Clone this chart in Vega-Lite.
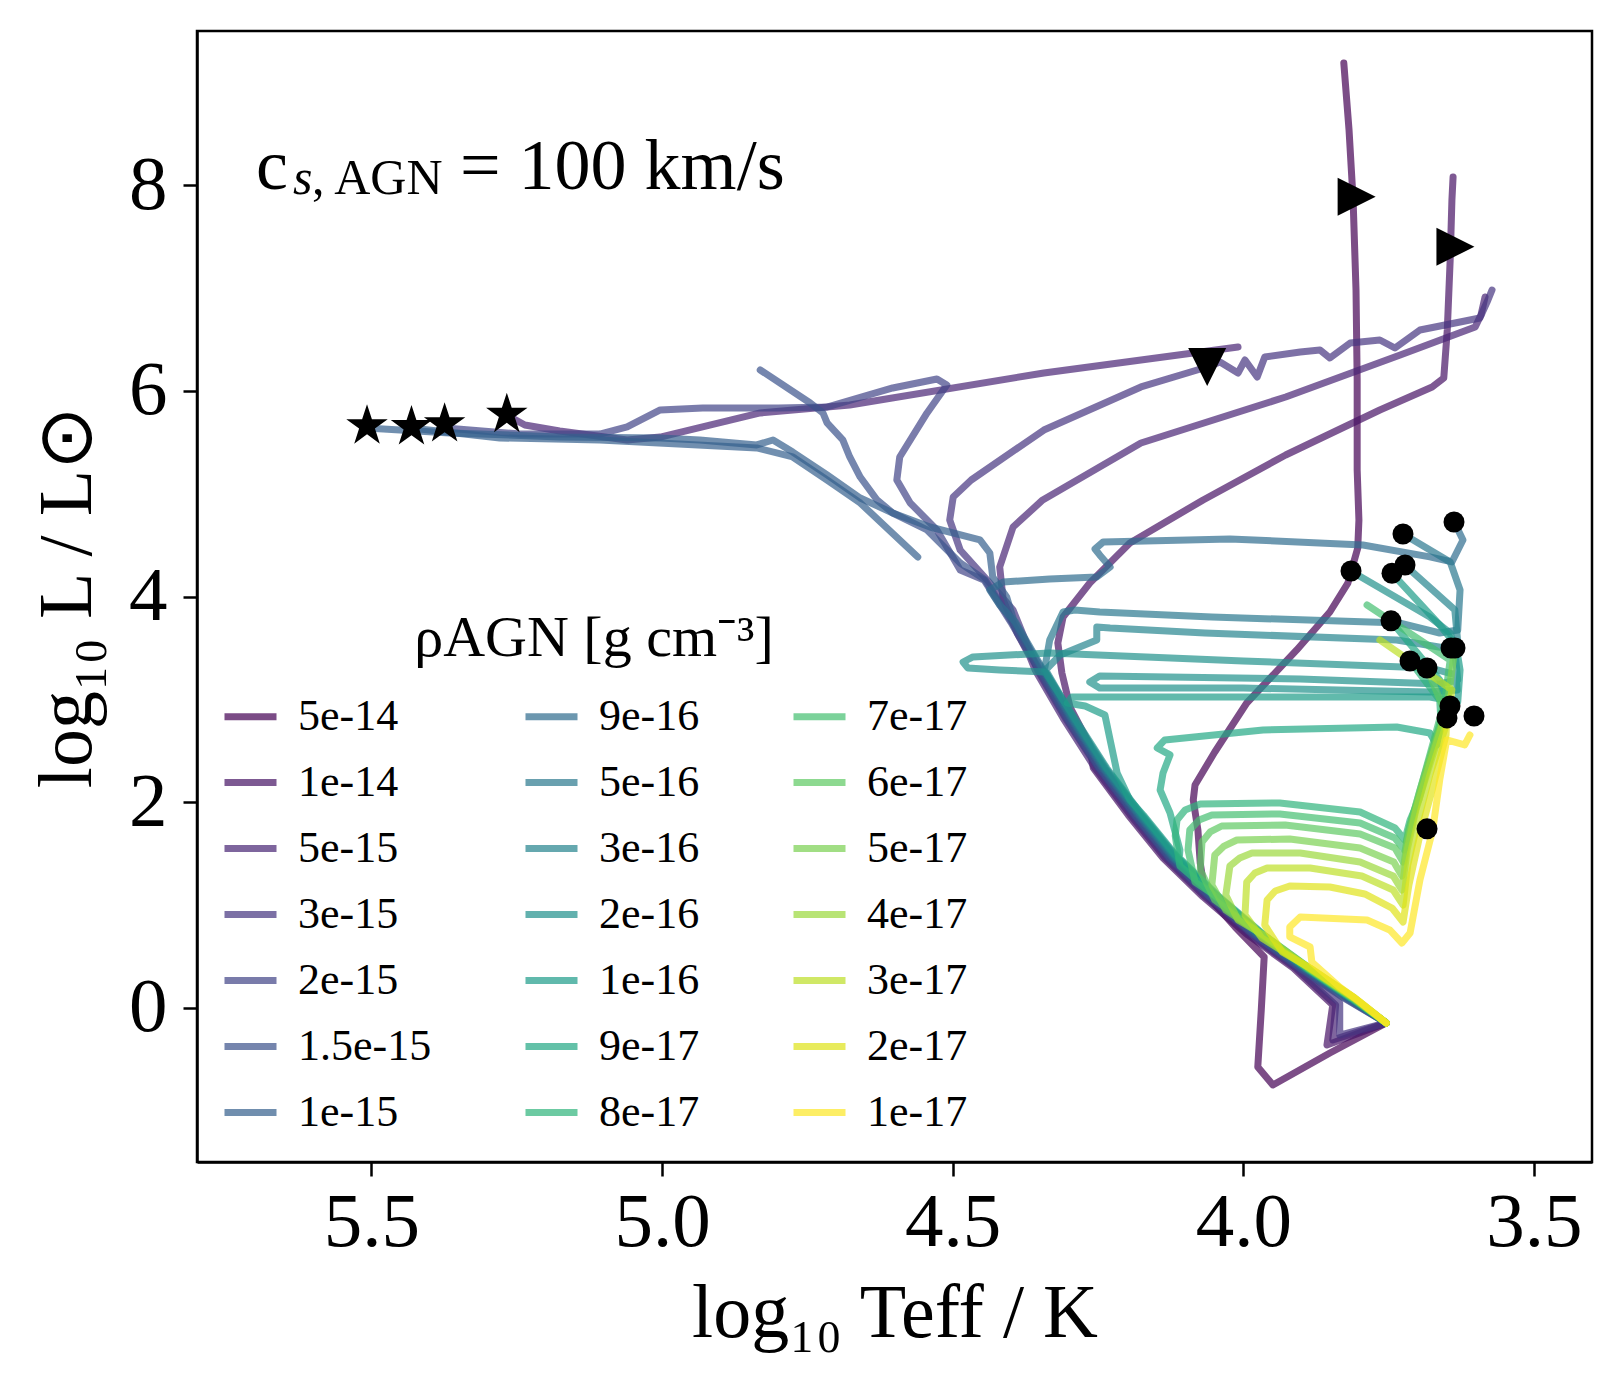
{
"$schema":"https://vega.github.io/schema/vega-lite/v6.json",
"width":1395,"height":1131,
"autosize":{"type":"none"},
"padding":{"left":197,"top":31,"right":29,"bottom":229},
"background":"white",
"config":{"view":{"stroke":"black","strokeWidth":2.5},
 "axis":{"grid":false,"labelFont":"Liberation Serif","labelFontSize":77,"labelColor":"black","labelFlush":false,"labelOverlap":false,"tickSize":14,"tickWidth":2.5,"tickColor":"black","domainColor":"black","domainWidth":2.5,"titleFont":"Liberation Serif","titleFontSize":76,"titleFontWeight":"normal","titleColor":"black"}},
"layer":[
 {"data":{"values":[
{"r":"5e-14","s":"0","i":0,"x":3.754,"y":-0.148},{"r":"5e-14","s":"0","i":1,"x":3.851,"y":-0.440},{"r":"5e-14","s":"0","i":2,"x":3.949,"y":-0.751},{"r":"5e-14","s":"0","i":3,"x":3.975,"y":-0.576},{"r":"5e-14","s":"0","i":4,"x":3.969,"y":-0.022},{"r":"5e-14","s":"0","i":5,"x":3.964,"y":0.494},{"r":"5e-14","s":"0","i":6,"x":4.014,"y":0.786},{"r":"5e-14","s":"0","i":7,"x":4.066,"y":1.116},{"r":"5e-14","s":"0","i":8,"x":4.074,"y":1.408},{"r":"5e-14","s":"0","i":9,"x":4.078,"y":1.729},{"r":"5e-14","s":"0","i":10,"x":4.086,"y":2.021},{"r":"5e-14","s":"0","i":11,"x":4.083,"y":2.166},{"r":"5e-14","s":"0","i":12,"x":4.049,"y":2.488},{"r":"5e-14","s":"0","i":13,"x":3.994,"y":2.964},{"r":"5e-14","s":"0","i":14,"x":3.908,"y":3.480},{"r":"5e-14","s":"0","i":15,"x":3.851,"y":3.849},{"r":"5e-14","s":"0","i":16,"x":3.820,"y":4.131},{"r":"5e-14","s":"0","i":17,"x":3.803,"y":4.472},{"r":"5e-14","s":"0","i":18,"x":3.801,"y":4.744},{"r":"5e-14","s":"0","i":19,"x":3.804,"y":5.230},{"r":"5e-14","s":"0","i":20,"x":3.804,"y":6.106},{"r":"5e-14","s":"0","i":21,"x":3.806,"y":6.981},{"r":"5e-14","s":"0","i":22,"x":3.811,"y":7.856},{"r":"5e-14","s":"0","i":23,"x":3.818,"y":8.537},{"r":"5e-14","s":"0","i":24,"x":3.827,"y":9.189},
{"r":"1e-14","s":"1","i":0,"x":3.754,"y":-0.148},{"r":"1e-14","s":"1","i":1,"x":3.856,"y":-0.362},{"r":"1e-14","s":"1","i":2,"x":3.846,"y":0.027},{"r":"1e-14","s":"1","i":3,"x":3.914,"y":0.387},{"r":"1e-14","s":"1","i":4,"x":3.992,"y":0.708},{"r":"1e-14","s":"1","i":5,"x":4.069,"y":1.078},{"r":"1e-14","s":"1","i":6,"x":4.138,"y":1.457},{"r":"1e-14","s":"1","i":7,"x":4.198,"y":1.875},{"r":"1e-14","s":"1","i":8,"x":4.258,"y":2.332},{"r":"1e-14","s":"1","i":9,"x":4.264,"y":2.556},{"r":"1e-14","s":"1","i":10,"x":4.298,"y":2.925},{"r":"1e-14","s":"1","i":11,"x":4.312,"y":3.256},{"r":"1e-14","s":"1","i":12,"x":4.319,"y":3.548},{"r":"1e-14","s":"1","i":13,"x":4.310,"y":3.801},{"r":"1e-14","s":"1","i":14,"x":4.264,"y":4.131},{"r":"1e-14","s":"1","i":15,"x":4.195,"y":4.520},{"r":"1e-14","s":"1","i":16,"x":4.069,"y":4.939},{"r":"1e-14","s":"1","i":17,"x":3.927,"y":5.376},{"r":"1e-14","s":"1","i":18,"x":3.765,"y":5.814},{"r":"1e-14","s":"1","i":19,"x":3.675,"y":6.038},{"r":"1e-14","s":"1","i":20,"x":3.655,"y":6.125},{"r":"1e-14","s":"1","i":21,"x":3.649,"y":6.592},{"r":"1e-14","s":"1","i":22,"x":3.644,"y":7.273},{"r":"1e-14","s":"1","i":23,"x":3.641,"y":7.856},{"r":"1e-14","s":"1","i":24,"x":3.639,"y":8.080},
{"r":"5e-15","s":"2a","i":0,"x":3.754,"y":-0.148},{"r":"5e-15","s":"2a","i":1,"x":3.846,"y":-0.313},{"r":"5e-15","s":"2a","i":2,"x":3.841,"y":0.027},{"r":"5e-15","s":"2a","i":3,"x":3.910,"y":0.387},{"r":"5e-15","s":"2a","i":4,"x":3.988,"y":0.708},{"r":"5e-15","s":"2a","i":5,"x":4.065,"y":1.078},{"r":"5e-15","s":"2a","i":6,"x":4.134,"y":1.457},{"r":"5e-15","s":"2a","i":7,"x":4.194,"y":1.875},{"r":"5e-15","s":"2a","i":8,"x":4.255,"y":2.332},{"r":"5e-15","s":"2a","i":9,"x":4.310,"y":2.818},{"r":"5e-15","s":"2a","i":10,"x":4.358,"y":3.285},{"r":"5e-15","s":"2a","i":11,"x":4.367,"y":3.412},{"r":"5e-15","s":"2a","i":12,"x":4.389,"y":3.645},{"r":"5e-15","s":"2a","i":13,"x":4.413,"y":3.966},{"r":"5e-15","s":"2a","i":14,"x":4.419,"y":4.287},{"r":"5e-15","s":"2a","i":15,"x":4.396,"y":4.676},{"r":"5e-15","s":"2a","i":16,"x":4.345,"y":4.939},{"r":"5e-15","s":"2a","i":17,"x":4.176,"y":5.493},{"r":"5e-15","s":"2a","i":18,"x":3.927,"y":5.940},{"r":"5e-15","s":"2a","i":19,"x":3.730,"y":6.349},{"r":"5e-15","s":"2a","i":20,"x":3.601,"y":6.621},{"r":"5e-15","s":"2a","i":21,"x":3.591,"y":6.738},{"r":"5e-15","s":"2a","i":22,"x":3.584,"y":6.913},
{"r":"5e-15","s":"2b","i":0,"x":5.267,"y":5.765},{"r":"5e-15","s":"2b","i":1,"x":5.236,"y":5.668},{"r":"5e-15","s":"2b","i":2,"x":5.176,"y":5.610},{"r":"5e-15","s":"2b","i":3,"x":5.060,"y":5.522},{"r":"5e-15","s":"2b","i":4,"x":5.003,"y":5.551},{"r":"5e-15","s":"2b","i":5,"x":4.831,"y":5.785},{"r":"5e-15","s":"2b","i":6,"x":4.677,"y":5.863},{"r":"5e-15","s":"2b","i":7,"x":4.343,"y":6.174},{"r":"5e-15","s":"2b","i":8,"x":4.009,"y":6.427},
{"r":"3e-15","s":"3","i":0,"x":3.754,"y":-0.148},{"r":"3e-15","s":"3","i":1,"x":3.834,"y":-0.265},{"r":"3e-15","s":"3","i":2,"x":3.834,"y":0.047},{"r":"3e-15","s":"3","i":3,"x":3.906,"y":0.387},{"r":"3e-15","s":"3","i":4,"x":3.984,"y":0.708},{"r":"3e-15","s":"3","i":5,"x":4.061,"y":1.078},{"r":"3e-15","s":"3","i":6,"x":4.130,"y":1.457},{"r":"3e-15","s":"3","i":7,"x":4.190,"y":1.875},{"r":"3e-15","s":"3","i":8,"x":4.250,"y":2.332},{"r":"3e-15","s":"3","i":9,"x":4.306,"y":2.818},{"r":"3e-15","s":"3","i":10,"x":4.354,"y":3.285},{"r":"3e-15","s":"3","i":11,"x":4.396,"y":3.869},{"r":"3e-15","s":"3","i":12,"x":4.436,"y":4.131},{"r":"3e-15","s":"3","i":13,"x":4.487,"y":4.452},{"r":"3e-15","s":"3","i":14,"x":4.505,"y":4.744},{"r":"3e-15","s":"3","i":15,"x":4.499,"y":4.968},{"r":"3e-15","s":"3","i":16,"x":4.468,"y":5.133},{"r":"3e-15","s":"3","i":17,"x":4.343,"y":5.619},{"r":"3e-15","s":"3","i":18,"x":4.176,"y":6.038},{"r":"3e-15","s":"3","i":19,"x":4.062,"y":6.232},{"r":"3e-15","s":"3","i":20,"x":4.040,"y":6.281},{"r":"3e-15","s":"3","i":21,"x":4.009,"y":6.174},{"r":"3e-15","s":"3","i":22,"x":3.997,"y":6.300},{"r":"3e-15","s":"3","i":23,"x":3.976,"y":6.135},{"r":"3e-15","s":"3","i":24,"x":3.963,"y":6.329},{"r":"3e-15","s":"3","i":25,"x":3.902,"y":6.378},{"r":"3e-15","s":"3","i":26,"x":3.868,"y":6.397},{"r":"3e-15","s":"3","i":27,"x":3.851,"y":6.320},{"r":"3e-15","s":"3","i":28,"x":3.816,"y":6.466},{"r":"3e-15","s":"3","i":29,"x":3.765,"y":6.495},{"r":"3e-15","s":"3","i":30,"x":3.739,"y":6.417},{"r":"3e-15","s":"3","i":31,"x":3.696,"y":6.592},{"r":"3e-15","s":"3","i":32,"x":3.627,"y":6.670},{"r":"3e-15","s":"3","i":33,"x":3.593,"y":6.709},{"r":"3e-15","s":"3","i":34,"x":3.579,"y":6.884},{"r":"3e-15","s":"3","i":35,"x":3.572,"y":6.981},
{"r":"2e-15","s":"4","i":0,"x":3.754,"y":-0.148},{"r":"2e-15","s":"4","i":1,"x":3.827,"y":0.095},{"r":"2e-15","s":"4","i":2,"x":3.904,"y":0.387},{"r":"2e-15","s":"4","i":3,"x":3.982,"y":0.708},{"r":"2e-15","s":"4","i":4,"x":4.059,"y":1.078},{"r":"2e-15","s":"4","i":5,"x":4.128,"y":1.457},{"r":"2e-15","s":"4","i":6,"x":4.188,"y":1.875},{"r":"2e-15","s":"4","i":7,"x":4.249,"y":2.332},{"r":"2e-15","s":"4","i":8,"x":4.304,"y":2.818},{"r":"2e-15","s":"4","i":9,"x":4.352,"y":3.285},{"r":"2e-15","s":"4","i":10,"x":4.400,"y":3.752},{"r":"2e-15","s":"4","i":11,"x":4.446,"y":4.161},{"r":"2e-15","s":"4","i":12,"x":4.487,"y":4.258},{"r":"2e-15","s":"4","i":13,"x":4.527,"y":4.647},{"r":"2e-15","s":"4","i":14,"x":4.573,"y":4.910},{"r":"2e-15","s":"4","i":15,"x":4.596,"y":5.133},{"r":"2e-15","s":"4","i":16,"x":4.591,"y":5.357},{"r":"2e-15","s":"4","i":17,"x":4.544,"y":5.785},{"r":"2e-15","s":"4","i":18,"x":4.510,"y":6.057},{"r":"2e-15","s":"4","i":19,"x":4.527,"y":6.115},{"r":"2e-15","s":"4","i":20,"x":4.603,"y":6.028},{"r":"2e-15","s":"4","i":21,"x":4.716,"y":5.843},{"r":"2e-15","s":"4","i":22,"x":4.800,"y":5.833},{"r":"2e-15","s":"4","i":23,"x":4.930,"y":5.833},{"r":"2e-15","s":"4","i":24,"x":5.003,"y":5.814},{"r":"2e-15","s":"4","i":25,"x":5.060,"y":5.649},{"r":"2e-15","s":"4","i":26,"x":5.107,"y":5.580},{"r":"2e-15","s":"4","i":27,"x":5.244,"y":5.580},{"r":"2e-15","s":"4","i":28,"x":5.373,"y":5.639},
{"r":"1.5e-15","s":"5","i":0,"x":3.754,"y":-0.148},{"r":"1.5e-15","s":"5","i":1,"x":3.825,"y":0.095},{"r":"1.5e-15","s":"5","i":2,"x":3.902,"y":0.387},{"r":"1.5e-15","s":"5","i":3,"x":3.980,"y":0.708},{"r":"1.5e-15","s":"5","i":4,"x":4.057,"y":1.078},{"r":"1.5e-15","s":"5","i":5,"x":4.126,"y":1.457},{"r":"1.5e-15","s":"5","i":6,"x":4.186,"y":1.875},{"r":"1.5e-15","s":"5","i":7,"x":4.247,"y":2.332},{"r":"1.5e-15","s":"5","i":8,"x":4.302,"y":2.818},{"r":"1.5e-15","s":"5","i":9,"x":4.350,"y":3.285},{"r":"1.5e-15","s":"5","i":10,"x":4.398,"y":3.752},{"r":"1.5e-15","s":"5","i":11,"x":4.444,"y":4.161},{"r":"1.5e-15","s":"5","i":12,"x":4.487,"y":4.326},{"r":"1.5e-15","s":"5","i":13,"x":4.544,"y":4.647},{"r":"1.5e-15","s":"5","i":14,"x":4.603,"y":4.812},{"r":"1.5e-15","s":"5","i":15,"x":4.630,"y":4.939},{"r":"1.5e-15","s":"5","i":16,"x":4.659,"y":5.162},{"r":"1.5e-15","s":"5","i":17,"x":4.677,"y":5.357},{"r":"1.5e-15","s":"5","i":18,"x":4.689,"y":5.523},{"r":"1.5e-15","s":"5","i":19,"x":4.716,"y":5.688},{"r":"1.5e-15","s":"5","i":20,"x":4.723,"y":5.785},{"r":"1.5e-15","s":"5","i":21,"x":4.745,"y":5.882},{"r":"1.5e-15","s":"5","i":22,"x":4.831,"y":6.203},
{"r":"1e-15","s":"6a","i":0,"x":3.754,"y":-0.148},{"r":"1e-15","s":"6a","i":1,"x":3.821,"y":0.095},{"r":"1e-15","s":"6a","i":2,"x":3.898,"y":0.387},{"r":"1e-15","s":"6a","i":3,"x":3.976,"y":0.708},{"r":"1e-15","s":"6a","i":4,"x":4.053,"y":1.078},{"r":"1e-15","s":"6a","i":5,"x":4.122,"y":1.457},{"r":"1e-15","s":"6a","i":6,"x":4.182,"y":1.875},{"r":"1e-15","s":"6a","i":7,"x":4.243,"y":2.332},{"r":"1e-15","s":"6a","i":8,"x":4.298,"y":2.818},{"r":"1e-15","s":"6a","i":9,"x":4.346,"y":3.285},{"r":"1e-15","s":"6a","i":10,"x":4.394,"y":3.752},{"r":"1e-15","s":"6a","i":11,"x":4.407,"y":3.995},{"r":"1e-15","s":"6a","i":12,"x":4.431,"y":4.190},{"r":"1e-15","s":"6a","i":13,"x":4.436,"y":4.423},{"r":"1e-15","s":"6a","i":14,"x":4.453,"y":4.550},{"r":"1e-15","s":"6a","i":15,"x":4.539,"y":4.676},{"r":"1e-15","s":"6a","i":16,"x":4.603,"y":4.812},{"r":"1e-15","s":"6a","i":17,"x":4.659,"y":4.958},{"r":"1e-15","s":"6a","i":18,"x":4.716,"y":5.182},{"r":"1e-15","s":"6a","i":19,"x":4.775,"y":5.405},{"r":"1e-15","s":"6a","i":20,"x":4.809,"y":5.522},{"r":"1e-15","s":"6a","i":21,"x":4.837,"y":5.474},{"r":"1e-15","s":"6a","i":22,"x":4.935,"y":5.522},{"r":"1e-15","s":"6a","i":23,"x":5.003,"y":5.542},{"r":"1e-15","s":"6a","i":24,"x":5.176,"y":5.552},{"r":"1e-15","s":"6a","i":25,"x":5.365,"y":5.591},{"r":"1e-15","s":"6a","i":26,"x":5.508,"y":5.639},
{"r":"1e-15","s":"6b","i":0,"x":5.432,"y":5.639},{"r":"1e-15","s":"6b","i":1,"x":5.279,"y":5.542},{"r":"1e-15","s":"6b","i":2,"x":5.107,"y":5.522},{"r":"1e-15","s":"6b","i":3,"x":4.837,"y":5.445},{"r":"1e-15","s":"6b","i":4,"x":4.775,"y":5.357},{"r":"1e-15","s":"6b","i":5,"x":4.716,"y":5.133},{"r":"1e-15","s":"6b","i":6,"x":4.659,"y":4.910},{"r":"1e-15","s":"6b","i":7,"x":4.560,"y":4.384},
{"r":"9e-16","s":"7","i":0,"x":3.754,"y":-0.148},{"r":"9e-16","s":"7","i":1,"x":3.819,"y":0.095},{"r":"9e-16","s":"7","i":2,"x":3.896,"y":0.387},{"r":"9e-16","s":"7","i":3,"x":3.974,"y":0.708},{"r":"9e-16","s":"7","i":4,"x":4.051,"y":1.078},{"r":"9e-16","s":"7","i":5,"x":4.120,"y":1.457},{"r":"9e-16","s":"7","i":6,"x":4.180,"y":1.875},{"r":"9e-16","s":"7","i":7,"x":4.241,"y":2.332},{"r":"9e-16","s":"7","i":8,"x":4.296,"y":2.818},{"r":"9e-16","s":"7","i":9,"x":4.344,"y":3.285},{"r":"9e-16","s":"7","i":10,"x":4.392,"y":3.752},{"r":"9e-16","s":"7","i":11,"x":4.419,"y":3.917},{"r":"9e-16","s":"7","i":12,"x":4.436,"y":4.063},{"r":"9e-16","s":"7","i":13,"x":4.413,"y":4.141},{"r":"9e-16","s":"7","i":14,"x":4.333,"y":4.171},{"r":"9e-16","s":"7","i":15,"x":4.252,"y":4.190},{"r":"9e-16","s":"7","i":16,"x":4.229,"y":4.287},{"r":"9e-16","s":"7","i":17,"x":4.247,"y":4.404},{"r":"9e-16","s":"7","i":18,"x":4.255,"y":4.462},{"r":"9e-16","s":"7","i":19,"x":4.241,"y":4.530},{"r":"9e-16","s":"7","i":20,"x":4.023,"y":4.560},{"r":"9e-16","s":"7","i":21,"x":3.794,"y":4.501},{"r":"9e-16","s":"7","i":22,"x":3.679,"y":4.385},{"r":"9e-16","s":"7","i":23,"x":3.641,"y":4.336},{"r":"9e-16","s":"7","i":24,"x":3.622,"y":4.550},{"r":"9e-16","s":"7","i":25,"x":3.637,"y":4.725},
{"r":"5e-16","s":"8","i":0,"x":3.754,"y":-0.148},{"r":"5e-16","s":"8","i":1,"x":3.817,"y":0.095},{"r":"5e-16","s":"8","i":2,"x":3.894,"y":0.387},{"r":"5e-16","s":"8","i":3,"x":3.972,"y":0.708},{"r":"5e-16","s":"8","i":4,"x":4.049,"y":1.078},{"r":"5e-16","s":"8","i":5,"x":4.118,"y":1.457},{"r":"5e-16","s":"8","i":6,"x":4.178,"y":1.875},{"r":"5e-16","s":"8","i":7,"x":4.239,"y":2.332},{"r":"5e-16","s":"8","i":8,"x":4.294,"y":2.818},{"r":"5e-16","s":"8","i":9,"x":4.342,"y":3.285},{"r":"5e-16","s":"8","i":10,"x":4.333,"y":3.577},{"r":"5e-16","s":"8","i":11,"x":4.310,"y":3.849},{"r":"5e-16","s":"8","i":12,"x":4.290,"y":3.869},{"r":"5e-16","s":"8","i":13,"x":4.247,"y":3.849},{"r":"5e-16","s":"8","i":14,"x":4.054,"y":3.801},{"r":"5e-16","s":"8","i":15,"x":3.730,"y":3.742},{"r":"5e-16","s":"8","i":16,"x":3.662,"y":3.645},{"r":"5e-16","s":"8","i":17,"x":3.631,"y":3.674},{"r":"5e-16","s":"8","i":18,"x":3.627,"y":4.063},{"r":"5e-16","s":"8","i":19,"x":3.644,"y":4.336},{"r":"5e-16","s":"8","i":20,"x":3.725,"y":4.608},
{"r":"3e-16","s":"9","i":0,"x":3.754,"y":-0.148},{"r":"3e-16","s":"9","i":1,"x":3.815,"y":0.095},{"r":"3e-16","s":"9","i":2,"x":3.892,"y":0.387},{"r":"3e-16","s":"9","i":3,"x":3.970,"y":0.708},{"r":"3e-16","s":"9","i":4,"x":4.047,"y":1.078},{"r":"3e-16","s":"9","i":5,"x":4.116,"y":1.457},{"r":"3e-16","s":"9","i":6,"x":4.176,"y":1.875},{"r":"3e-16","s":"9","i":7,"x":4.237,"y":2.332},{"r":"3e-16","s":"9","i":8,"x":4.292,"y":2.818},{"r":"3e-16","s":"9","i":9,"x":4.340,"y":3.285},{"r":"3e-16","s":"9","i":10,"x":4.315,"y":3.431},{"r":"3e-16","s":"9","i":11,"x":4.252,"y":3.577},{"r":"3e-16","s":"9","i":12,"x":4.252,"y":3.704},{"r":"3e-16","s":"9","i":13,"x":4.229,"y":3.694},{"r":"3e-16","s":"9","i":14,"x":4.066,"y":3.645},{"r":"3e-16","s":"9","i":15,"x":3.736,"y":3.577},{"r":"3e-16","s":"9","i":16,"x":3.653,"y":3.499},{"r":"3e-16","s":"9","i":17,"x":3.631,"y":3.557},{"r":"3e-16","s":"9","i":18,"x":3.636,"y":3.869},{"r":"3e-16","s":"9","i":19,"x":3.722,"y":4.306},
{"r":"2e-16","s":"10","i":0,"x":3.754,"y":-0.148},{"r":"2e-16","s":"10","i":1,"x":3.813,"y":0.095},{"r":"2e-16","s":"10","i":2,"x":3.890,"y":0.387},{"r":"2e-16","s":"10","i":3,"x":3.968,"y":0.708},{"r":"2e-16","s":"10","i":4,"x":4.045,"y":1.078},{"r":"2e-16","s":"10","i":5,"x":4.114,"y":1.457},{"r":"2e-16","s":"10","i":6,"x":4.174,"y":1.875},{"r":"2e-16","s":"10","i":7,"x":4.235,"y":2.332},{"r":"2e-16","s":"10","i":8,"x":4.290,"y":2.818},{"r":"2e-16","s":"10","i":9,"x":4.341,"y":3.266},{"r":"2e-16","s":"10","i":10,"x":4.419,"y":3.285},{"r":"2e-16","s":"10","i":11,"x":4.474,"y":3.305},{"r":"2e-16","s":"10","i":12,"x":4.482,"y":3.363},{"r":"2e-16","s":"10","i":13,"x":4.465,"y":3.412},{"r":"2e-16","s":"10","i":14,"x":4.333,"y":3.451},{"r":"2e-16","s":"10","i":15,"x":4.000,"y":3.373},{"r":"2e-16","s":"10","i":16,"x":3.679,"y":3.305},{"r":"2e-16","s":"10","i":17,"x":3.634,"y":3.237},{"r":"2e-16","s":"10","i":18,"x":3.632,"y":3.091},{"r":"2e-16","s":"10","i":19,"x":3.679,"y":3.071},{"r":"2e-16","s":"10","i":20,"x":4.000,"y":3.110},{"r":"2e-16","s":"10","i":21,"x":4.247,"y":3.110},{"r":"2e-16","s":"10","i":22,"x":4.264,"y":3.169},{"r":"2e-16","s":"10","i":23,"x":4.247,"y":3.227},{"r":"2e-16","s":"10","i":24,"x":3.902,"y":3.198},{"r":"2e-16","s":"10","i":25,"x":3.662,"y":3.149},{"r":"2e-16","s":"10","i":26,"x":3.631,"y":3.188},{"r":"2e-16","s":"10","i":27,"x":3.636,"y":3.480},{"r":"2e-16","s":"10","i":28,"x":3.644,"y":3.645},{"r":"2e-16","s":"10","i":29,"x":3.679,"y":3.801},{"r":"2e-16","s":"10","i":30,"x":3.815,"y":4.248},
{"r":"1e-16","s":"11","i":0,"x":3.754,"y":-0.148},{"r":"1e-16","s":"11","i":1,"x":3.811,"y":0.095},{"r":"1e-16","s":"11","i":2,"x":3.888,"y":0.387},{"r":"1e-16","s":"11","i":3,"x":3.966,"y":0.708},{"r":"1e-16","s":"11","i":4,"x":4.043,"y":1.078},{"r":"1e-16","s":"11","i":5,"x":4.112,"y":1.457},{"r":"1e-16","s":"11","i":6,"x":4.172,"y":1.875},{"r":"1e-16","s":"11","i":7,"x":4.195,"y":2.021},{"r":"1e-16","s":"11","i":8,"x":4.217,"y":2.284},{"r":"1e-16","s":"11","i":9,"x":4.229,"y":2.605},{"r":"1e-16","s":"11","i":10,"x":4.238,"y":2.848},{"r":"1e-16","s":"11","i":11,"x":4.272,"y":2.935},{"r":"1e-16","s":"11","i":12,"x":4.303,"y":2.964},{"r":"1e-16","s":"11","i":13,"x":4.295,"y":3.023},{"r":"1e-16","s":"11","i":14,"x":3.966,"y":3.023},{"r":"1e-16","s":"11","i":15,"x":3.679,"y":3.023},{"r":"1e-16","s":"11","i":16,"x":3.631,"y":2.974},{"r":"1e-16","s":"11","i":17,"x":3.627,"y":3.285},{"r":"1e-16","s":"11","i":18,"x":3.634,"y":3.529},{"r":"1e-16","s":"11","i":19,"x":3.662,"y":3.723},{"r":"1e-16","s":"11","i":20,"x":3.744,"y":4.226},
{"r":"9e-17","s":"12","i":0,"x":3.754,"y":-0.148},{"r":"9e-17","s":"12","i":1,"x":3.809,"y":0.095},{"r":"9e-17","s":"12","i":2,"x":3.886,"y":0.387},{"r":"9e-17","s":"12","i":3,"x":3.964,"y":0.708},{"r":"9e-17","s":"12","i":4,"x":4.041,"y":1.078},{"r":"9e-17","s":"12","i":5,"x":4.110,"y":1.457},{"r":"9e-17","s":"12","i":6,"x":4.109,"y":1.535},{"r":"9e-17","s":"12","i":7,"x":4.126,"y":1.895},{"r":"9e-17","s":"12","i":8,"x":4.143,"y":2.118},{"r":"9e-17","s":"12","i":9,"x":4.138,"y":2.284},{"r":"9e-17","s":"12","i":10,"x":4.126,"y":2.459},{"r":"9e-17","s":"12","i":11,"x":4.148,"y":2.527},{"r":"9e-17","s":"12","i":12,"x":4.135,"y":2.605},{"r":"9e-17","s":"12","i":13,"x":3.966,"y":2.702},{"r":"9e-17","s":"12","i":14,"x":3.736,"y":2.731},{"r":"9e-17","s":"12","i":15,"x":3.679,"y":2.673},{"r":"9e-17","s":"12","i":16,"x":3.667,"y":2.556},{"r":"9e-17","s":"12","i":17,"x":3.662,"y":2.702},{"r":"9e-17","s":"12","i":18,"x":3.651,"y":2.945},{"r":"9e-17","s":"12","i":19,"x":3.662,"y":3.188},{"r":"9e-17","s":"12","i":20,"x":3.746,"y":3.763},
{"r":"8e-17","s":"13","i":0,"x":3.754,"y":-0.148},{"r":"8e-17","s":"13","i":1,"x":3.815,"y":0.095},{"r":"8e-17","s":"13","i":2,"x":3.892,"y":0.387},{"r":"8e-17","s":"13","i":3,"x":3.970,"y":0.708},{"r":"8e-17","s":"13","i":4,"x":4.047,"y":1.078},{"r":"8e-17","s":"13","i":5,"x":4.109,"y":1.379},{"r":"8e-17","s":"13","i":6,"x":4.117,"y":1.671},{"r":"8e-17","s":"13","i":7,"x":4.114,"y":1.826},{"r":"8e-17","s":"13","i":8,"x":4.100,"y":1.924},{"r":"8e-17","s":"13","i":9,"x":4.074,"y":1.982},{"r":"8e-17","s":"13","i":10,"x":3.937,"y":1.992},{"r":"8e-17","s":"13","i":11,"x":3.799,"y":1.904},{"r":"8e-17","s":"13","i":12,"x":3.739,"y":1.749},{"r":"8e-17","s":"13","i":13,"x":3.722,"y":1.632},{"r":"8e-17","s":"13","i":14,"x":3.713,"y":1.826},{"r":"8e-17","s":"13","i":15,"x":3.698,"y":2.021},{"r":"8e-17","s":"13","i":16,"x":3.679,"y":2.410},{"r":"8e-17","s":"13","i":17,"x":3.660,"y":2.799},{"r":"8e-17","s":"13","i":18,"x":3.662,"y":2.993},{"r":"8e-17","s":"13","i":19,"x":3.713,"y":3.373},
{"r":"7e-17","s":"14","i":0,"x":3.754,"y":-0.148},{"r":"7e-17","s":"14","i":1,"x":3.813,"y":0.095},{"r":"7e-17","s":"14","i":2,"x":3.890,"y":0.387},{"r":"7e-17","s":"14","i":3,"x":3.968,"y":0.708},{"r":"7e-17","s":"14","i":4,"x":4.045,"y":1.078},{"r":"7e-17","s":"14","i":5,"x":4.083,"y":1.223},{"r":"7e-17","s":"14","i":6,"x":4.095,"y":1.535},{"r":"7e-17","s":"14","i":7,"x":4.092,"y":1.729},{"r":"7e-17","s":"14","i":8,"x":4.076,"y":1.826},{"r":"7e-17","s":"14","i":9,"x":4.054,"y":1.875},{"r":"7e-17","s":"14","i":10,"x":3.937,"y":1.885},{"r":"7e-17","s":"14","i":11,"x":3.799,"y":1.797},{"r":"7e-17","s":"14","i":12,"x":3.739,"y":1.651},{"r":"7e-17","s":"14","i":13,"x":3.723,"y":1.535},{"r":"7e-17","s":"14","i":14,"x":3.713,"y":1.778},{"r":"7e-17","s":"14","i":15,"x":3.698,"y":2.070},{"r":"7e-17","s":"14","i":16,"x":3.679,"y":2.459},{"r":"7e-17","s":"14","i":17,"x":3.653,"y":2.993},{"r":"7e-17","s":"14","i":18,"x":3.644,"y":3.382},{"r":"7e-17","s":"14","i":19,"x":3.787,"y":3.917},
{"r":"6e-17","s":"15","i":0,"x":3.754,"y":-0.148},{"r":"6e-17","s":"15","i":1,"x":3.812,"y":0.095},{"r":"6e-17","s":"15","i":2,"x":3.889,"y":0.387},{"r":"6e-17","s":"15","i":3,"x":3.967,"y":0.708},{"r":"6e-17","s":"15","i":4,"x":4.049,"y":1.048},{"r":"6e-17","s":"15","i":5,"x":4.074,"y":1.340},{"r":"6e-17","s":"15","i":6,"x":4.071,"y":1.612},{"r":"6e-17","s":"15","i":7,"x":4.057,"y":1.710},{"r":"6e-17","s":"15","i":8,"x":4.037,"y":1.768},{"r":"6e-17","s":"15","i":9,"x":3.928,"y":1.778},{"r":"6e-17","s":"15","i":10,"x":3.799,"y":1.690},{"r":"6e-17","s":"15","i":11,"x":3.739,"y":1.554},{"r":"6e-17","s":"15","i":12,"x":3.725,"y":1.418},{"r":"6e-17","s":"15","i":13,"x":3.715,"y":1.729},{"r":"6e-17","s":"15","i":14,"x":3.696,"y":2.118},{"r":"6e-17","s":"15","i":15,"x":3.675,"y":2.507},{"r":"6e-17","s":"15","i":16,"x":3.653,"y":2.877},{"r":"6e-17","s":"15","i":17,"x":3.684,"y":3.305},
{"r":"5e-17","s":"16","i":0,"x":3.754,"y":-0.148},{"r":"5e-17","s":"16","i":1,"x":3.811,"y":0.095},{"r":"5e-17","s":"16","i":2,"x":3.888,"y":0.387},{"r":"5e-17","s":"16","i":3,"x":3.966,"y":0.708},{"r":"5e-17","s":"16","i":4,"x":4.030,"y":0.951},{"r":"5e-17","s":"16","i":5,"x":4.054,"y":1.194},{"r":"5e-17","s":"16","i":6,"x":4.049,"y":1.486},{"r":"5e-17","s":"16","i":7,"x":4.033,"y":1.573},{"r":"5e-17","s":"16","i":8,"x":4.011,"y":1.632},{"r":"5e-17","s":"16","i":9,"x":3.920,"y":1.641},{"r":"5e-17","s":"16","i":10,"x":3.799,"y":1.554},{"r":"5e-17","s":"16","i":11,"x":3.741,"y":1.418},{"r":"5e-17","s":"16","i":12,"x":3.727,"y":1.282},{"r":"5e-17","s":"16","i":13,"x":3.717,"y":1.632},{"r":"5e-17","s":"16","i":14,"x":3.699,"y":2.021},{"r":"5e-17","s":"16","i":15,"x":3.679,"y":2.410},{"r":"5e-17","s":"16","i":16,"x":3.650,"y":2.896},{"r":"5e-17","s":"16","i":17,"x":3.636,"y":3.499},
{"r":"4e-17","s":"17","i":0,"x":3.754,"y":-0.148},{"r":"4e-17","s":"17","i":1,"x":3.810,"y":0.095},{"r":"4e-17","s":"17","i":2,"x":3.887,"y":0.387},{"r":"4e-17","s":"17","i":3,"x":3.965,"y":0.708},{"r":"4e-17","s":"17","i":4,"x":4.009,"y":0.854},{"r":"4e-17","s":"17","i":5,"x":4.030,"y":1.097},{"r":"4e-17","s":"17","i":6,"x":4.023,"y":1.379},{"r":"4e-17","s":"17","i":7,"x":4.006,"y":1.457},{"r":"4e-17","s":"17","i":8,"x":3.985,"y":1.505},{"r":"4e-17","s":"17","i":9,"x":3.902,"y":1.505},{"r":"4e-17","s":"17","i":10,"x":3.799,"y":1.418},{"r":"4e-17","s":"17","i":11,"x":3.742,"y":1.282},{"r":"4e-17","s":"17","i":12,"x":3.727,"y":1.145},{"r":"4e-17","s":"17","i":13,"x":3.718,"y":1.535},{"r":"4e-17","s":"17","i":14,"x":3.703,"y":1.924},{"r":"4e-17","s":"17","i":15,"x":3.682,"y":2.313},{"r":"4e-17","s":"17","i":16,"x":3.656,"y":2.780},{"r":"4e-17","s":"17","i":17,"x":3.644,"y":2.935},
{"r":"3e-17","s":"18","i":0,"x":3.754,"y":-0.148},{"r":"3e-17","s":"18","i":1,"x":3.809,"y":0.095},{"r":"3e-17","s":"18","i":2,"x":3.886,"y":0.387},{"r":"3e-17","s":"18","i":3,"x":3.968,"y":0.679},{"r":"3e-17","s":"18","i":4,"x":3.997,"y":0.904},{"r":"3e-17","s":"18","i":5,"x":3.994,"y":1.223},{"r":"3e-17","s":"18","i":6,"x":3.980,"y":1.311},{"r":"3e-17","s":"18","i":7,"x":3.959,"y":1.360},{"r":"3e-17","s":"18","i":8,"x":3.885,"y":1.360},{"r":"3e-17","s":"18","i":9,"x":3.796,"y":1.282},{"r":"3e-17","s":"18","i":10,"x":3.742,"y":1.145},{"r":"3e-17","s":"18","i":11,"x":3.725,"y":0.999},{"r":"3e-17","s":"18","i":12,"x":3.717,"y":1.389},{"r":"3e-17","s":"18","i":13,"x":3.699,"y":1.826},{"r":"3e-17","s":"18","i":14,"x":3.679,"y":2.264},{"r":"3e-17","s":"18","i":15,"x":3.651,"y":2.750},{"r":"3e-17","s":"18","i":16,"x":3.641,"y":3.091},{"r":"3e-17","s":"18","i":17,"x":3.765,"y":3.577},
{"r":"2e-17","s":"19","i":0,"x":3.754,"y":-0.148},{"r":"2e-17","s":"19","i":1,"x":3.808,"y":0.095},{"r":"2e-17","s":"19","i":2,"x":3.885,"y":0.387},{"r":"2e-17","s":"19","i":3,"x":3.933,"y":0.543},{"r":"2e-17","s":"19","i":4,"x":3.963,"y":0.805},{"r":"2e-17","s":"19","i":5,"x":3.959,"y":1.048},{"r":"2e-17","s":"19","i":6,"x":3.945,"y":1.136},{"r":"2e-17","s":"19","i":7,"x":3.920,"y":1.184},{"r":"2e-17","s":"19","i":8,"x":3.851,"y":1.175},{"r":"2e-17","s":"19","i":9,"x":3.791,"y":1.107},{"r":"2e-17","s":"19","i":10,"x":3.744,"y":0.970},{"r":"2e-17","s":"19","i":11,"x":3.725,"y":0.834},{"r":"2e-17","s":"19","i":12,"x":3.715,"y":1.194},{"r":"2e-17","s":"19","i":13,"x":3.696,"y":1.681},{"r":"2e-17","s":"19","i":14,"x":3.675,"y":2.118},{"r":"2e-17","s":"19","i":15,"x":3.651,"y":2.653},{"r":"2e-17","s":"19","i":16,"x":3.650,"y":2.819},
{"r":"1e-17","s":"20","i":0,"x":3.754,"y":-0.148},{"r":"1e-17","s":"20","i":1,"x":3.799,"y":0.056},{"r":"1e-17","s":"20","i":2,"x":3.834,"y":0.202},{"r":"1e-17","s":"20","i":3,"x":3.882,"y":0.445},{"r":"1e-17","s":"20","i":4,"x":3.885,"y":0.591},{"r":"1e-17","s":"20","i":5,"x":3.920,"y":0.689},{"r":"1e-17","s":"20","i":6,"x":3.920,"y":0.786},{"r":"1e-17","s":"20","i":7,"x":3.902,"y":0.883},{"r":"1e-17","s":"20","i":8,"x":3.787,"y":0.854},{"r":"1e-17","s":"20","i":9,"x":3.748,"y":0.757},{"r":"1e-17","s":"20","i":10,"x":3.727,"y":0.630},{"r":"1e-17","s":"20","i":11,"x":3.713,"y":0.727},{"r":"1e-17","s":"20","i":12,"x":3.696,"y":1.243},{"r":"1e-17","s":"20","i":13,"x":3.674,"y":1.729},{"r":"1e-17","s":"20","i":14,"x":3.662,"y":2.216},{"r":"1e-17","s":"20","i":15,"x":3.650,"y":2.605},{"r":"1e-17","s":"20","i":16,"x":3.619,"y":2.556},{"r":"1e-17","s":"20","i":17,"x":3.610,"y":2.653}
 ]},
  "mark":{"type":"line","strokeWidth":7,"opacity":0.7,"strokeCap":"round","strokeJoin":"round"},
  "encoding":{
   "x":{"field":"x","type":"quantitative","scale":{"domain":[3.4,5.8],"reverse":true,"nice":false,"zero":false},
    "axis":{"title":"log₁₀ Teff / K","values":[5.5,5.0,4.5,4.0,3.5],"format":".1f","labelPadding":8,"titlePadding":16}},
   "y":{"field":"y","type":"quantitative","scale":{"domain":[-1.5,9.5],"nice":false,"zero":false},
    "axis":{"title":"log₁₀ L / L⊙","values":[0,2,4,6,8],"format":"d","labelPadding":16,"titlePadding":22}},
   "color":{"field":"r","type":"nominal",
    "scale":{"domain":["5e-14","1e-14","5e-15","3e-15","2e-15","1.5e-15","1e-15","9e-16","5e-16","3e-16","2e-16","1e-16","9e-17","8e-17","7e-17","6e-17","5e-17","4e-17","3e-17","2e-17","1e-17"],
     "range":["#440154","#471365","#482475","#463480","#414487","#3b528b","#355f8d","#2f6c8e","#2a788e","#25848e","#21918c","#1e9c89","#22a884","#2fb47c","#44bf70","#5ec962","#7ad151","#9bd93c","#bddf26","#dfe318","#fde725"]},
    "legend":{"title":"ρAGN [g cm⁻³]","orient":"none","legendX":24,"legendY":579,"columns":3,"columnPadding":79,"rowPadding":14,
     "symbolType":"stroke","symbolSize":2704,"symbolStrokeWidth":7,"symbolOpacity":0.7,
     "labelFont":"Liberation Serif","labelFontSize":44,"labelOffset":18,"labelLimit":400,"labelColor":"black",
     "titleFont":"Liberation Serif","titleFontSize":58,"titleFontWeight":"normal","titleAnchor":"middle","titlePadding":19,"titleLimit":1000,"titleColor":"black"}},
   "detail":{"field":"s","type":"nominal"},
   "order":{"field":"i","type":"quantitative"}}},
 {"data":{"values":[{"x":3.8146,"y":4.248},{"x":3.7252,"y":4.608},{"x":3.7217,"y":4.306},{"x":3.7441,"y":4.226},{"x":3.6374,"y":4.725},{"x":3.7458,"y":3.763},{"x":3.6426,"y":3.499},{"x":3.6357,"y":3.499},{"x":3.7131,"y":3.373},{"x":3.6838,"y":3.305},{"x":3.6443,"y":2.935},{"x":3.6495,"y":2.819},{"x":3.6030,"y":2.838},{"x":3.6838,"y":1.740}]},
  "mark":{"type":"point","shape":"circle","filled":true,"color":"black","opacity":1,"size":441,"strokeWidth":0},
  "encoding":{"x":{"field":"x","type":"quantitative"},"y":{"field":"y","type":"quantitative"}}},
 {"data":{"values":[{"x":5.5075,"y":5.658},{"x":5.431,"y":5.650},{"x":5.374,"y":5.678},{"x":5.267,"y":5.770}]},
  "mark":{"type":"point","shape":"M0,-1L0.225,-0.309L0.951,-0.309L0.363,0.118L0.588,0.809L0,0.382L-0.588,0.809L-0.363,0.118L-0.951,-0.309L-0.225,-0.309Z","filled":true,"color":"black","opacity":1,"size":1900,"strokeWidth":0},
  "encoding":{"x":{"field":"x","type":"quantitative"},"y":{"field":"y","type":"quantitative"}}},
 {"data":{"values":[{"x":3.805,"y":7.889},{"x":3.635,"y":7.402}]},
  "mark":{"type":"point","shape":"M-1,-1L1,0L-1,1Z","filled":true,"color":"black","opacity":1,"size":1444,"strokeWidth":0},
  "encoding":{"x":{"field":"x","type":"quantitative"},"y":{"field":"y","type":"quantitative"}}},
 {"data":{"values":[{"x":4.062,"y":6.232}]},
  "mark":{"type":"point","shape":"M-1,-1L1,-1L0,1Z","filled":true,"color":"black","opacity":1,"size":1444,"strokeWidth":0},
  "encoding":{"x":{"field":"x","type":"quantitative"},"y":{"field":"y","type":"quantitative"}}},
 {"data":{"values":[{"t":"c","x":5.6985,"y":7.963},{"t":"= 100 km/s","x":5.3475,"y":7.963}]},
  "mark":{"type":"text","align":"left","baseline":"alphabetic","font":"Liberation Serif","fontSize":72,"color":"black"},
  "encoding":{"x":{"field":"x","type":"quantitative"},"y":{"field":"y","type":"quantitative"},"text":{"field":"t","type":"nominal"}}},
 {"data":{"values":[{"t":"s","x":5.6348,"y":7.915}]},
  "mark":{"type":"text","align":"left","baseline":"alphabetic","font":"Liberation Serif","fontSize":50,"fontStyle":"italic","color":"black"},
  "encoding":{"x":{"field":"x","type":"quantitative"},"y":{"field":"y","type":"quantitative"},"text":{"field":"t","type":"nominal"}}},
 {"data":{"values":[{"t":", AGN","x":5.6022,"y":7.915}]},
  "mark":{"type":"text","align":"left","baseline":"alphabetic","font":"Liberation Serif","fontSize":50,"color":"black"},
  "encoding":{"x":{"field":"x","type":"quantitative"},"y":{"field":"y","type":"quantitative"},"text":{"field":"t","type":"nominal"}}}
]
}
